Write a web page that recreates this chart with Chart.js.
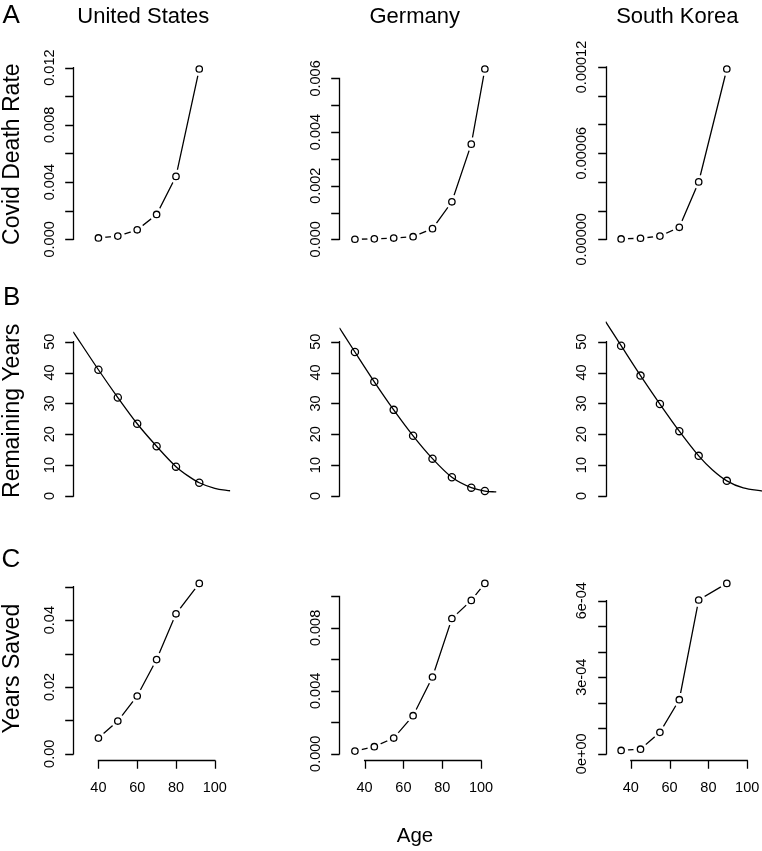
<!DOCTYPE html>
<html>
<head>
<meta charset="utf-8">
<script src="https://cdn.jsdelivr.net/npm/chart.js@4.4.1/dist/chart.umd.min.js"></script>
<style>
html,body{margin:0;padding:0;background:#fff;overflow:hidden;}
#wrap{position:relative;width:762px;height:851px;overflow:hidden;background:#fff;}
#wrap canvas{position:absolute;left:0;top:0;}
</style>
</head>
<body>
<div id="wrap"></div>
<script>
// ---------------- data ----------------
const countries = ["United States", "Germany", "South Korea"];
const rowLetters = ["A", "B", "C"];
const rowTitles = ["Covid Death Rate", "Remaining Years", "Years Saved"];
const xTitle = "Age";

const usAges = [40, 50, 60, 70, 80, 92];
const deAges = [35, 45, 55, 65, 75, 85, 95, 102];
const krAges = [35, 45, 55, 65, 75, 89.5];

const usDeathRate = [0.0001, 0.00023, 0.00067, 0.00174, 0.0044, 0.0119];
const deDeathRate = [0.000005, 0.00002, 0.00005, 0.0001, 0.0004, 0.0014, 0.00355, 0.00635];
const krDeathRate = [0.0000003, 0.0000008, 0.0000023, 0.0000084, 0.00004, 0.0001186];

const usRemaining = [40.9, 31.9, 23.4, 16.1, 9.5, 4.3];
const deRemaining = [46.65, 37.0, 27.9, 19.5, 12.1, 6.05, 2.7, 1.6];
const krRemaining = [48.7, 39.0, 29.8, 21.0, 13.0, 4.9];

// remaining-years curves
const usCurveAges = [27, 40, 50, 60, 70, 80, 86, 92, 100, 108];
const usCurveYears = [53.2, 40.9, 31.9, 23.4, 16.1, 9.5, 6.6, 4.3, 2.5, 1.7];
const deCurveAges = [27, 35, 45, 55, 65, 75, 85, 95, 102, 108];
const deCurveYears = [54.5, 46.65, 37.0, 27.9, 19.5, 12.1, 6.05, 2.7, 1.6, 1.3];
const krCurveAges = [27, 35, 45, 55, 65, 75, 82, 89.5, 98, 108];
const krCurveYears = [56.5, 48.7, 39.0, 29.8, 21.0, 13.0, 8.5, 4.9, 2.6, 1.6];

const usYearsSaved = [0.0047, 0.0098, 0.0173, 0.0282, 0.0419, 0.051];
const deYearsSaved = [0.00017, 0.00045, 0.001, 0.00242, 0.00488, 0.0086, 0.00975, 0.01083];
const krYearsSaved = [0.000013, 0.000018, 0.000084, 0.000212, 0.000603, 0.000668];

// tick values and labels
const usRateTicks = [0, 0.002, 0.004, 0.006, 0.008, 0.010, 0.012];
const usRateTickLabels = ["0.000", "", "0.004", "", "0.008", "", "0.012"];
const deRateTicks = [0, 0.001, 0.002, 0.003, 0.004, 0.005, 0.006];
const deRateTickLabels = ["0.000", "", "0.002", "", "0.004", "", "0.006"];
const krRateTicks = [0, 0.00002, 0.00004, 0.00006, 0.00008, 0.0001, 0.00012];
const krRateTickLabels = ["0.00000", "", "", "0.00006", "", "", "0.00012"];

const remainingTicks = [0, 10, 20, 30, 40, 50];
const remainingTickLabels = ["0", "10", "20", "30", "40", "50"];
const remainingYMax = 55.2;

const usSavedTicks = [0, 0.01, 0.02, 0.03, 0.04, 0.05];
const usSavedTickLabels = ["0.00", "", "0.02", "", "0.04", ""];
const deSavedTicks = [0, 0.002, 0.004, 0.006, 0.008, 0.010];
const deSavedTickLabels = ["0.000", "", "0.004", "", "0.008", ""];
const krSavedTicks = [0, 0.0001, 0.0002, 0.0003, 0.0004, 0.0005, 0.0006];
const krSavedTickLabels = ["0e+00", "", "", "3e-04", "", "", "6e-04"];

const ageTicks = [40, 60, 80, 100];
const ageTickLabels = ["40", "60", "80", "100"];
const ageLimits = [27, 108];

// ---------------- layout ----------------
const W = 780, H = 851;
const colLeft = [73.2, 339.4, 605.6];
const rowTop = [62.2, 318.8, 576.6];
const plotW = 157.1, plotH = 184;
const TICK_LEN = 8.3;
const LW = 1.3;
const FONT = '"Liberation Sans", Arial, Helvetica, sans-serif';

const panels = [
  {row:0, col:0, kind:'b', ages:usAges, vals:usDeathRate, ticks:usRateTicks, labels:usRateTickLabels},
  {row:0, col:1, kind:'b', ages:deAges, vals:deDeathRate, ticks:deRateTicks, labels:deRateTickLabels},
  {row:0, col:2, kind:'b', ages:krAges, vals:krDeathRate, ticks:krRateTicks, labels:krRateTickLabels},
  {row:1, col:0, kind:'curve', ages:usAges, vals:usRemaining, cx:usCurveAges, cy:usCurveYears, ticks:remainingTicks, labels:remainingTickLabels, yMax:remainingYMax},
  {row:1, col:1, kind:'curve', ages:deAges, vals:deRemaining, cx:deCurveAges, cy:deCurveYears, ticks:remainingTicks, labels:remainingTickLabels, yMax:remainingYMax},
  {row:1, col:2, kind:'curve', ages:krAges, vals:krRemaining, cx:krCurveAges, cy:krCurveYears, ticks:remainingTicks, labels:remainingTickLabels, yMax:remainingYMax},
  {row:2, col:0, kind:'b', ages:usAges, vals:usYearsSaved, ticks:usSavedTicks, labels:usSavedTickLabels, xAxis:true},
  {row:2, col:1, kind:'b', ages:deAges, vals:deYearsSaved, ticks:deSavedTicks, labels:deSavedTickLabels, xAxis:true},
  {row:2, col:2, kind:'b', ages:krAges, vals:krYearsSaved, ticks:krSavedTicks, labels:krSavedTickLabels, xAxis:true}
];

function axesPlugin(p) {
  return {
    id: 'rAxes',
    afterDraw(chart) {
      const ctx = chart.ctx, a = chart.chartArea;
      const xs = chart.scales.x, ys = chart.scales.y;
      ctx.save();
      ctx.strokeStyle = '#000'; ctx.fillStyle = '#000'; ctx.lineWidth = LW;
      // y axis
      const ax = Math.round(a.left) + 0.5;
      const yb = ys.getPixelForValue(p.ticks[0]);
      const yt = ys.getPixelForValue(p.ticks[p.ticks.length - 1]);
      ctx.beginPath();
      ctx.moveTo(ax, yb + LW / 2); ctx.lineTo(ax, yt - LW / 2);
      p.ticks.forEach(v => {
        const py = Math.round(ys.getPixelForValue(v)) + 0.5;
        ctx.moveTo(ax, py); ctx.lineTo(ax - TICK_LEN, py);
      });
      ctx.stroke();
      ctx.font = '14.5px ' + FONT;
      ctx.textAlign = 'center'; ctx.textBaseline = 'alphabetic';
      p.ticks.forEach((v, k) => {
        const lab = p.labels[k];
        if (!lab) return;
        ctx.save();
        ctx.translate(a.left - 19.5, ys.getPixelForValue(v));
        ctx.rotate(-Math.PI / 2);
        ctx.fillText(lab, 0, 0);
        ctx.restore();
      });
      // x axis
      if (p.xAxis) {
        const by = Math.floor(a.bottom) + 0.5;
        ctx.beginPath();
        ctx.moveTo(xs.getPixelForValue(ageTicks[0]) - LW / 2, by);
        ctx.lineTo(xs.getPixelForValue(ageTicks[ageTicks.length - 1]) + LW / 2, by);
        ageTicks.forEach(v => {
          const px = Math.round(xs.getPixelForValue(v)) + 0.5;
          ctx.moveTo(px, by); ctx.lineTo(px, by + TICK_LEN);
        });
        ctx.stroke();
        ageTicks.forEach((v, k) => {
          ctx.fillText(ageTickLabels[k], xs.getPixelForValue(v), a.bottom + 31);
        });
      }
      ctx.restore();
    }
  };
}

const textPlugin = {
  id: 'figText',
  afterDraw(chart) {
    const ctx = chart.ctx;
    ctx.save();
    ctx.fillStyle = '#000'; ctx.textBaseline = 'alphabetic';
    ctx.font = '26px ' + FONT; ctx.textAlign = 'left';
    const letterPos = [[2.5, 23.3], [3, 305], [1.5, 566.7]];
    rowLetters.forEach((L, r) => ctx.fillText(L, letterPos[r][0], letterPos[r][1]));
    ctx.font = '22px ' + FONT; ctx.textAlign = 'center';
    const titleX = [143.3, 414.7, 677.3];
    countries.forEach((c, k) => ctx.fillText(c, titleX[k], 22.7));
    ctx.font = '23px ' + FONT;
    rowTitles.forEach((t, r) => {
      ctx.save();
      ctx.translate(18.5, rowTop[r] + plotH / 2);
      ctx.rotate(-Math.PI / 2);
      ctx.fillText(t, 0, 0);
      ctx.restore();
    });
    ctx.font = '20.5px ' + FONT;
    ctx.fillText(xTitle, 415, 842.3);
    ctx.restore();
  }
};

const wrap = document.getElementById('wrap');
panels.forEach((p, i) => {
  const cv = document.createElement('canvas');
  cv.width = W; cv.height = H;
  cv.style.width = W + 'px'; cv.style.height = H + 'px';
  wrap.appendChild(cv);
  const M = p.yMax !== undefined ? p.yMax : Math.max(...p.vals);
  const pts = p.ages.map((a, k) => ({x: a, y: p.vals[k]}));
  let datasets;
  if (p.kind === 'b') {
    datasets = [
      {data: pts, showLine: false, pointRadius: 3.2, pointBorderWidth: LW,
       pointBorderColor: '#000', pointBackgroundColor: '#fff', order: 0},
      {data: pts, showLine: false, pointRadius: 7, pointBorderWidth: 0,
       pointBorderColor: '#fff', pointBackgroundColor: '#fff', order: 1},
      {data: pts, showLine: true, borderColor: '#000', borderWidth: LW,
       pointRadius: 0, tension: 0, order: 2}
    ];
  } else {
    const curve = p.cx.map((a, k) => ({x: a, y: p.cy[k]}));
    datasets = [
      {data: pts, showLine: false, pointRadius: 3.6, pointBorderWidth: LW,
       pointBorderColor: '#000', pointBackgroundColor: 'rgba(0,0,0,0)', order: 0},
      {data: curve, showLine: true, borderColor: '#000', borderWidth: LW,
       pointRadius: 0, cubicInterpolationMode: 'monotone', order: 1}
    ];
  }
  const plugins = [axesPlugin(p)];
  if (i === 0) plugins.push(textPlugin);
  new Chart(cv, {
    type: 'scatter',
    data: {datasets},
    options: {
      responsive: false, animation: false, devicePixelRatio: 1, events: [],
      layout: {padding: {
        left: colLeft[p.col], top: rowTop[p.row],
        right: W - colLeft[p.col] - plotW, bottom: H - rowTop[p.row] - plotH}},
      scales: {
        x: {type: 'linear', display: false, min: ageLimits[0], max: ageLimits[1]},
        y: {type: 'linear', display: false, min: -0.04 * M, max: 1.04 * M}
      },
      plugins: {legend: {display: false}, tooltip: {enabled: false}}
    },
    plugins
  });
});
</script>
</body>
</html>
